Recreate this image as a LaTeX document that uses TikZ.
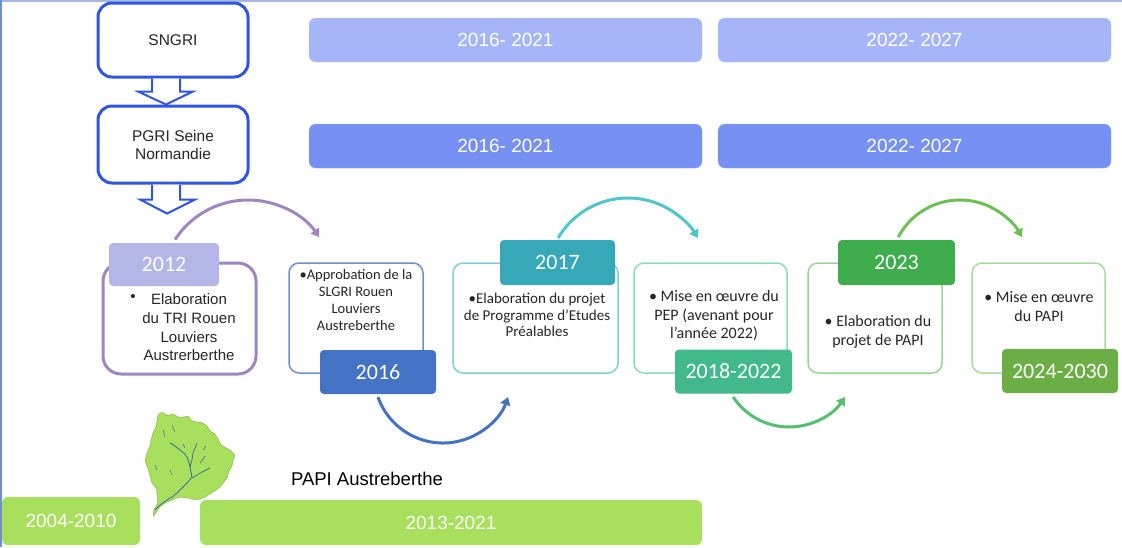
\documentclass[tikz,border=0pt]{standalone}
\usepackage{fontspec}
\setmainfont{Liberation Sans}
\newfontfamily\carl{Carlito}
\usetikzlibrary{arrows.meta,calc}
\definecolor{sblue}{HTML}{2F55E4}
\definecolor{barA}{HTML}{A5B5F8}
\definecolor{barB}{HTML}{7690F3}
\definecolor{purp}{HTML}{A185C2}
\definecolor{lav}{HTML}{B3B6E7}
\definecolor{hA}{HTML}{4472C4}
\definecolor{bA}{HTML}{6E8FD0}
\definecolor{hB}{HTML}{36A8B8}
\definecolor{bB}{HTML}{80CFD8}
\definecolor{aB}{HTML}{4EC6C8}
\definecolor{hC}{HTML}{41B98A}
\definecolor{bC}{HTML}{8ADDBA}
\definecolor{aC}{HTML}{52C06E}
\definecolor{hD}{HTML}{3FAC4E}
\definecolor{bD}{HTML}{9AD595}
\definecolor{aD}{HTML}{6CBF55}
\definecolor{hE}{HTML}{6BAE46}
\definecolor{bE}{HTML}{ABD99C}
\definecolor{lgreen}{HTML}{A8DF5C}
\definecolor{txt}{HTML}{262626}
\definecolor{frame}{HTML}{A8B8DC}
\definecolor{river}{HTML}{3A6AA0}
\begin{document}
\begin{tikzpicture}[x=1pt,y=-1pt,
  topbox/.style={draw=sblue, line width=3pt, rounded corners=14pt, fill=white,
    minimum width=150pt, inner sep=0pt, align=center, text=txt,
    font=\fontsize{15.5}{18}\selectfont},
  hollow/.style={draw=sblue, line width=2pt, fill=white, line join=miter},
  bar/.style={rounded corners=7pt, minimum height=44pt, text=white, inner sep=0pt,
    font=\fontsize{19}{22}\selectfont},
  tlbox/.style={fill=white, rounded corners=10pt, line width=1.5pt,
    minimum height=110pt, inner sep=0pt},
  hdr/.style={rounded corners=4pt, text=white, inner sep=0pt,
    font=\carl\fontsize{22}{26}\selectfont, minimum height=44pt},
  body/.style={align=center, text=txt, inner sep=0pt},
  arcline/.style={line width=3pt, -{Triangle[length=8pt,width=10pt]}}
]
\useasboundingbox (0,0) rectangle (1122,547);
% frame
\draw[frame, line width=1.5pt] (0,0.75) -- (1122,0.75);
\draw[bA, line width=1.5pt] (0.75,0) -- (0.75,547);

% top left boxes
\node[topbox, minimum height=74pt] (sngri) at (173,40) {SNGRI};
\node[topbox, minimum height=77pt] (pgri) at (173,144.5) {PGRI Seine\\Normandie};
\draw[hollow] ($(sngri.south)+(-21,0)$) -- ($(sngri.south)+(-21,13)$) -- ($(sngri.south)+(-35,13)$)
  -- ($(sngri.south)+(-7,26)$) -- ($(sngri.south)+(20,13)$) -- ($(sngri.south)+(7,13)$)
  -- ($(sngri.south)+(7,0)$);
\draw[hollow] ($(pgri.south)+(-21,0)$) -- ($(pgri.south)+(-21,15)$) -- ($(pgri.south)+(-33,15)$)
  -- ($(pgri.south)+(-6,29)$) -- ($(pgri.south)+(22,15)$) -- ($(pgri.south)+(7,15)$)
  -- ($(pgri.south)+(7,0)$);

% top bars
\node[bar, fill=barA, draw=barA!80!white, minimum width=393pt] (b11) at (505.5,40) {2016- 2021};
\node[bar, fill=barA, draw=barA!80!white, minimum width=393pt] (b12) at (914.5,40) {2022- 2027};
\node[bar, fill=barB, draw=barB!80!white, minimum width=393pt] (b21) at (505.5,146) {2016- 2021};
\node[bar, fill=barB, draw=barB!80!white, minimum width=393pt] (b22) at (914.5,146) {2022- 2027};

% arcs (behind boxes)
\coordinate (c1) at (248,287);
\coordinate (c2) at (443,374);
\coordinate (c3) at (628,279);
\coordinate (c4) at (789,360);
\coordinate (c5) at (960,270);
\draw[arcline, purp] ($(c1)+(-147:87)$) arc[start angle=-147, end angle=-35, radius=87];
\draw[arcline, hA] ($(c2)+(160.5:69)$) arc[start angle=160.5, end angle=19.5, radius=69];
\draw[arcline, aB] ($(c3)+(-149.6:81)$) arc[start angle=-149.6, end angle=-30.4, radius=81];
\draw[arcline, aC] ($(c4)+(146.5:67)$) arc[start angle=146.5, end angle=33.5, radius=67];
\draw[arcline, aD] ($(c5)+(-152:70)$) arc[start angle=-152, end angle=-28, radius=70];

% timeline boxes
\node[tlbox, draw=purp, line width=3pt, rounded corners=18pt, minimum width=153pt, minimum height=111pt] (box2012) at (179.5,318.5) {};
\node[hdr, fill=lav, minimum width=110pt, minimum height=43pt] (h2012) at (164,264.5) {2012};
\node[body, font=\fontsize{15}{18.7}\selectfont] (t2012) at (189,327.5) {Elaboration\\du TRI Rouen\\Louviers\\Austrerberthe};
\node[body, font=\fontsize{15}{18.7}\selectfont] (bul2012) at (133,298) {•};

\node[tlbox, draw=bA, minimum width=134pt] (box2016) at (356,318) {};
\node[hdr, fill=hA, minimum width=116pt] (h2016) at (378,372) {2016};
\node[body, font=\carl\fontsize{14.5}{16.7}\selectfont] (t2016) at (356,300) {•Approbation de la\\SLGRI Rouen\\Louviers\\Austreberthe};

\node[tlbox, draw=bB, minimum width=165pt] (box2017) at (535.5,318) {};
\node[hdr, fill=hB, minimum width=115pt, minimum height=45pt] (h2017) at (557.5,262.5) {2017};
\node[body, font=\carl\fontsize{15}{16.7}\selectfont] (t2017) at (537,315) {•Elaboration du projet\\de Programme d’Etudes\\Préalables};

\node[tlbox, draw=bC, minimum width=153pt] (box2018) at (710.5,318) {};
\node[hdr, fill=hC, minimum width=117pt] (h2018) at (733.5,371.5) {2018-2022};
\node[body, font=\carl\fontsize{16}{18.5}\selectfont] (t2018) at (714,316) {• Mise en œuvre du\\PEP (avenant pour\\l’année 2022)};

\node[tlbox, draw=bD, minimum width=134pt] (box2023) at (875,318) {};
\node[hdr, fill=hD, minimum width=117pt, minimum height=45pt] (h2023) at (896.5,262.5) {2023};
\node[body, font=\carl\fontsize{16}{19.5}\selectfont] (t2023) at (878,332) {• Elaboration du\\projet de PAPI};

\node[tlbox, draw=bE, minimum width=133pt] (box2024) at (1038.5,318) {};
\node[hdr, fill=hE, minimum width=116pt] (h2024) at (1060,371) {2024-2030};
\node[body, font=\carl\fontsize{16}{19}\selectfont] (t2024) at (1039,306.5) {• Mise en œuvre\\du PAPI};

% bottom
\node[bar, fill=lgreen, rounded corners=6pt, minimum width=138pt, minimum height=48pt] (p2004) at (71,521) {2004-2010};
\node[bar, fill=lgreen, rounded corners=6pt, minimum width=502pt, minimum height=45pt] (p2013) at (451,522.5) {2013-2021};
\node[font=\fontsize{18.5}{22}\selectfont, text=black, inner sep=0pt] (papi) at (367,479) {PAPI Austreberthe};

% map
\draw[fill=lgreen, draw=lgreen!85!black, line width=0.6pt, rounded corners=1pt]
 (162,412) -- (168,416) -- (173,414) -- (180,418) -- (188,416) -- (192,421) -- (197,422) -- (203,423)
 -- (207,426) -- (210,431) -- (215,434) -- (218,439) -- (221,445) -- (226,448) -- (230,450) -- (235,455)
 -- (233,460) -- (232,466) -- (229,471) -- (227,478) -- (223,483) -- (220,487) -- (213,492)
 -- (205,497) -- (197,500) -- (188,498) -- (180,497) -- (174,499) -- (167,502) -- (162,505)
 -- (158,509) -- (153,517) -- (154,510) -- (158,503) -- (157,495) -- (157,489) -- (152,483)
 -- (150,476) -- (148,468) -- (145,461) -- (147,453) -- (150,446) -- (151,440) -- (153,433)
 -- (156,427) -- (157,421) -- (158,415) -- cycle;
\draw[river, line width=0.8pt, line join=round]
 (155,510) -- (160,505) -- (167,500) -- (172,497) -- (177,493) -- (183,487) -- (188,482) -- (192,477)
 -- (191,472) -- (190,467) -- (189,462) -- (187,457) -- (184,453) -- (180,450) -- (175,446) -- (170,443);
\draw[river, line width=0.7pt] (190,467) -- (192,460) -- (193,453) -- (195,448) -- (197,443);
\draw[river, line width=0.7pt] (192,478) -- (197,475) -- (202,472) -- (206,470) -- (210,468);
\draw[river, line width=0.6pt] (200,463) -- (203,459) -- (205,456);
\draw[river, line width=0.5pt] (163,430) -- (165,437);
\draw[river, line width=0.5pt] (172,425) -- (175,432);
\draw[river, line width=0.5pt] (155,465) -- (157,470);
\draw[river, line width=0.5pt] (170,470) -- (172,475);
\draw[river, line width=0.5pt] (183,444) -- (185,448);
\draw[river, line width=0.5pt] (203,450) -- (206,446);
\end{tikzpicture}
\end{document}
